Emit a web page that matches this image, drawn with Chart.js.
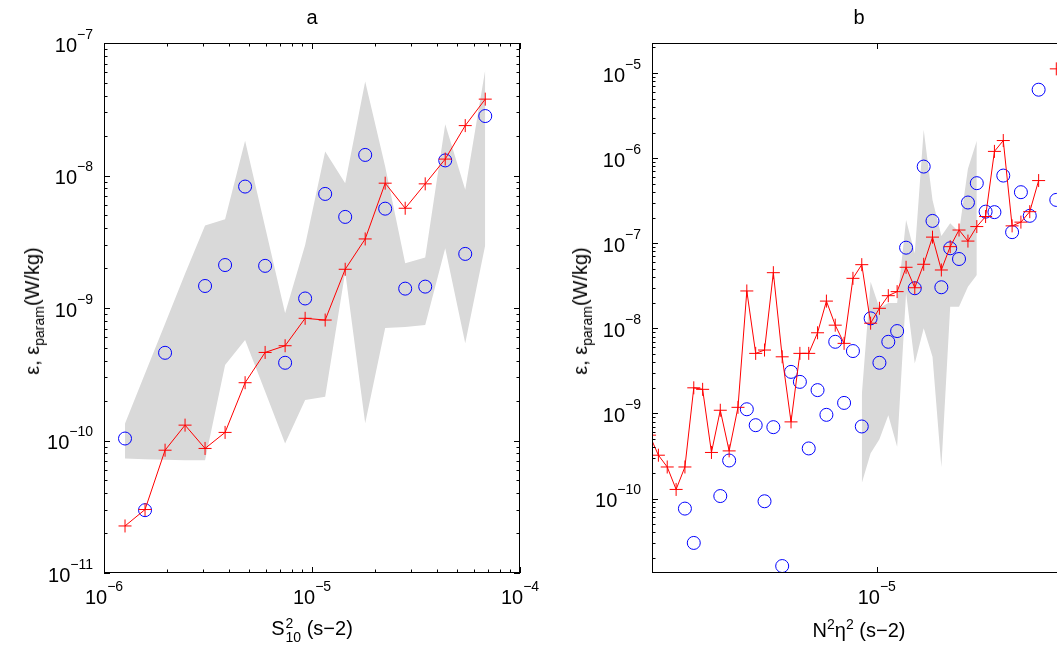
<!DOCTYPE html>
<html>
<head>
<meta charset="utf-8">
<script src="https://cdn.jsdelivr.net/npm/chart.js@4.4.1/dist/chart.umd.min.js"></script>
<style>
  html, body { margin:0; padding:0; background:#fff; overflow:hidden; width:1057px; height:648px; }
  body { position:relative; font-family:"Liberation Sans", Arial, Helvetica, sans-serif; color:#000; }
  canvas { position:absolute; top:0; }
  #chartA { left:0; }
  #chartB { left:540px; }
  .lbl { position:absolute; font-size:20px; line-height:20px; white-space:nowrap; transform:translate(-50%,-50%); }
  .rot { transform:translate(-50%,-50%) rotate(-90deg); }
  .lbl sub, .lbl sup { font-size:14px; line-height:0; }
  .stk { display:inline-block; font-size:14px; line-height:14px; vertical-align:-7px; margin-left:1px; }
  .stk span { display:block; }
</style>
</head>
<body>
<canvas id="chartA" width="600" height="648"></canvas>
<canvas id="chartB" width="570" height="648"></canvas>

<div class="lbl" style="left:312px;top:17px">a</div>
<div class="lbl" style="left:859px;top:17px">b</div>
<div class="lbl" style="left:312px;top:630px">S<span class="stk"><span>2</span><span>10</span></span> (s&minus;2)</div>
<div class="lbl" style="left:859px;top:630px">N<sup>2</sup>&eta;<sup>2</sup> (s&minus;2)</div>
<div class="lbl rot" style="left:32px;top:311px">&epsilon;, &epsilon;<sub>param</sub>(W/kg)</div>
<div class="lbl rot" style="left:580px;top:311px">&epsilon;, &epsilon;<sub>param</sub>(W/kg)</div>

<script>
// panel a : S10^2
const sX = [1.262e-6, 1.575e-6, 1.966e-6, 2.453e-6, 3.061e-6, 3.821e-6, 4.768e-6, 5.951e-6, 7.426e-6, 9.268e-6,
            1.157e-5, 1.444e-5, 1.802e-5, 2.248e-5, 2.806e-5, 3.502e-5, 4.370e-5, 5.454e-5, 6.807e-5];
const epsA = [1.035e-10, 2.98e-11, 4.59e-10, null, 1.466e-9, 2.11e-9, 8.25e-9, 2.08e-9, 3.86e-10, 1.18e-9,
              7.26e-9, 4.87e-9, 1.43e-8, 5.62e-9, 1.40e-9, 1.45e-9, 1.30e-8, 2.56e-9, 2.81e-8];
const paramA = [2.265e-11, 3.013e-11, 8.45e-11, 1.306e-10, 8.71e-11, 1.151e-10, 2.73e-10, 4.62e-10, 5.19e-10, 8.36e-10,
                8.11e-10, 1.96e-9, 3.32e-9, 8.75e-9, 5.66e-9, 8.65e-9, 1.33e-8, 2.38e-8, 3.77e-8];
const bandHiA = [1.346e-10, 3.20e-10, 7.61e-10, 1.81e-9, 4.19e-9, 4.68e-9, 1.83e-8, 4.09e-9, 9.12e-10, 2.99e-9,
                 1.52e-8, 8.75e-9, 5.13e-8, 1.17e-8, 2.18e-9, 2.40e-9, 2.44e-8, 7.80e-9, 6.28e-8];
const bandLoA = [7.31e-11, 7.23e-11, 7.16e-11, 7.11e-11, 7.11e-11, 3.71e-10, 5.73e-10, 2.34e-10, 9.51e-11, 2.02e-10,
                 2.14e-10, 1.87e-9, 1.35e-10, 7.06e-10, 7.18e-10, 7.44e-10, 2.83e-9, 5.41e-10, 2.99e-9];

// panel b : N^2 eta^2
const nX = [3.062e-6, 3.206e-6, 3.357e-6, 3.516e-6, 3.681e-6, 3.855e-6, 4.037e-6, 4.227e-6, 4.426e-6, 4.635e-6,
            4.853e-6, 5.082e-6, 5.322e-6, 5.573e-6, 5.835e-6, 6.110e-6, 6.398e-6, 6.700e-6, 7.016e-6, 7.346e-6,
            7.693e-6, 8.055e-6, 8.435e-6, 8.833e-6, 9.249e-6, 9.685e-6, 1.014e-5, 1.062e-5, 1.112e-5, 1.165e-5,
            1.219e-5, 1.277e-5, 1.337e-5, 1.400e-5, 1.466e-5, 1.535e-5, 1.608e-5, 1.684e-5, 1.763e-5, 1.846e-5,
            1.933e-5, 2.024e-5, 2.119e-5, 2.219e-5, 2.324e-5, 2.433e-5, 2.548e-5];
const epsB = [null, null, null, null, 7.62e-11, 3.01e-11, null, null, 1.07e-10, 2.80e-10,
              null, 1.12e-9, 7.28e-10, 9.29e-11, 6.90e-10, 1.61e-11, 3.08e-9, 2.35e-9, 3.88e-10, 1.88e-9,
              9.63e-10, 6.95e-9, 1.33e-9, 5.41e-9, 7.03e-10, 1.31e-8, 3.94e-9, 6.95e-9, 9.29e-9, 8.87e-8,
              2.96e-8, 7.96e-7, 1.83e-7, 3.04e-8, 8.73e-8, 6.53e-8, 3.01e-7, 5.08e-7, 2.35e-7, 2.32e-7,
              6.24e-7, 1.35e-7, 3.98e-7, 2.10e-7, 6.37e-6, null, 3.23e-7];
const paramB = [5.56e-10, 3.23e-10, 2.35e-10, 1.28e-10, 2.35e-10, 2.00e-9, 1.92e-9, 3.48e-10, 1.09e-9, 3.63e-10,
                1.18e-9, 2.75e-8, 5.08e-9, 5.56e-9, 4.51e-8, 4.63e-9, 7.96e-10, 5.08e-9, 5.08e-9, 8.87e-9,
                2.09e-8, 1.09e-8, 6.66e-9, 3.87e-8, 5.60e-8, 1.15e-8, 1.72e-8, 2.42e-8, 2.70e-8, 5.22e-8,
                3.00e-8, 5.66e-8, 1.18e-7, 4.85e-8, 9.12e-8, 1.43e-7, 1.06e-7, 1.57e-7, 2.06e-7, 1.20e-6,
                1.61e-6, 1.60e-7, 1.77e-7, 2.35e-7, 5.45e-7, null, 1.12e-5];
const bandStartB = 24;
const bandHiB = [1.64e-9, 3.53e-8, 1.73e-8, 1.99e-8, 1.99e-8, 1.88e-7, 7.62e-8, 2.15e-6, 3.23e-7, 1.22e-7,
                 1.72e-7, 1.36e-7, 7.48e-7, 1.60e-6];
const bandLoB = [1.51e-10, 3.41e-10, 4.99e-10, 9.55e-10, 4.05e-10, 2.60e-8, 3.87e-9, 1.0e-8, 4.63e-9, 2.35e-10,
                 1.79e-8, 1.79e-8, 3.08e-8, 4.24e-8];

const FONT = '"Liberation Sans", Arial, Helvetica, sans-serif';
const pts = (xs, ys) => xs.map((x, i) => ({ x, y: ys[i] }));

// matlab style box, inward ticks and 10^n labels
const axesBox = {
  id: 'axesBox',
  afterDraw(chart, args, o) {
    const { ctx, chartArea: a, scales: { x, y } } = chart;
    ctx.save();
    ctx.strokeStyle = '#000'; ctx.fillStyle = '#000'; ctx.lineWidth = 1;
    ctx.strokeRect(a.left + 0.5, a.top + 0.5, a.right - a.left - 1, a.bottom - a.top - 1);

    const ticks = (sc, minor) => {
      const out = [];
      const lo = Math.floor(Math.log10(sc.min)), hi = Math.ceil(Math.log10(sc.max));
      for (let e = lo; e <= hi; e++) {
        for (let m = 1; m <= 9; m++) {
          if (m > 1 && !minor) continue;
          const v = m * Math.pow(10, e);
          if (v < sc.min * 0.999 || v > sc.max * 1.001) continue;
          out.push({ v, e, major: m === 1 });
        }
      }
      return out;
    };

    ctx.beginPath();
    ticks(x, o.xMinor).forEach(t => {
      const px = Math.round(x.getPixelForValue(t.v)) + 0.5, len = t.major ? 6 : 3.5;
      ctx.moveTo(px, a.bottom); ctx.lineTo(px, a.bottom - len);
      ctx.moveTo(px, a.top); ctx.lineTo(px, a.top + len);
    });
    ticks(y, true).forEach(t => {
      const py = Math.round(y.getPixelForValue(t.v)) + 0.5, len = t.major ? 6 : 3.5;
      ctx.moveTo(a.left, py); ctx.lineTo(a.left + len, py);
      ctx.moveTo(a.right, py); ctx.lineTo(a.right - len, py);
    });
    ctx.stroke();

    const pow10 = (e, px, py, align) => {
      ctx.font = '20px ' + FONT;
      const wb = ctx.measureText('10').width;
      ctx.font = '14px ' + FONT;
      const ex = '\u2212' + Math.abs(e);
      const we = ctx.measureText(ex).width;
      const x0 = align === 'right' ? px - wb - we : px - (wb + we) / 2;
      ctx.textAlign = 'left'; ctx.textBaseline = 'middle';
      ctx.font = '20px ' + FONT; ctx.fillText('10', x0, py);
      ctx.font = '14px ' + FONT; ctx.fillText(ex, x0 + wb, py - 11);
    };
    ticks(x, false).forEach(t => pow10(t.e, x.getPixelForValue(t.v), a.bottom + 25, 'center'));
    ticks(y, false).forEach(t => pow10(t.e, a.left - 11, y.getPixelForValue(t.v) + 3, 'right'));
    ctx.restore();
  }
};

const makePanel = (id, xs, eps, param, bandX, bandHi, bandLo, scales, padding, xMinor) => new Chart(document.getElementById(id), {
  type: 'line',
  data: {
    datasets: [
      { data: pts(bandX, bandHi), fill: '+1', backgroundColor: '#d9d9d9', borderWidth: 0, pointRadius: 0, order: 3 },
      { data: pts(bandX, bandLo), fill: false, borderWidth: 0, pointRadius: 0, order: 3 },
      { data: pts(xs, eps), showLine: false, pointStyle: 'circle', pointRadius: 6.5,
        pointBorderColor: '#0000ff', pointBackgroundColor: 'rgba(0,0,0,0)', pointBorderWidth: 1, order: 2 },
      { data: pts(xs, param), borderColor: '#ff0000', borderWidth: 1, tension: 0, fill: false,
        pointStyle: 'cross', pointRadius: 6.5, pointBorderColor: '#ff0000', pointBorderWidth: 1, order: 1 }
    ]
  },
  options: {
    responsive: false, animation: false, events: [],
    layout: { padding },
    scales: {
      x: { type: 'logarithmic', min: scales.xmin, max: scales.xmax, display: false },
      y: { type: 'logarithmic', min: scales.ymin, max: scales.ymax, display: false }
    },
    plugins: { legend: { display: false }, tooltip: { enabled: false }, axesBox: { xMinor } }
  },
  plugins: [axesBox]
});

makePanel('chartA', sX, epsA, paramA, sX, bandHiA, bandLoA,
  { xmin: 1e-6, xmax: 1e-4, ymin: 1e-11, ymax: 1e-7 },
  { left: 104, right: 80, top: 43, bottom: 75 }, true);

makePanel('chartB', nX, epsB, paramB, nX.slice(bandStartB, bandStartB + bandHiB.length), bandHiB, bandLoB,
  { xmin: 3.101e-6, xmax: 2.694e-5, ymin: 1.334e-11, ymax: 2.254e-5 },
  { left: 112, right: 43, top: 43, bottom: 75 }, false);
</script>
</body>
</html>
